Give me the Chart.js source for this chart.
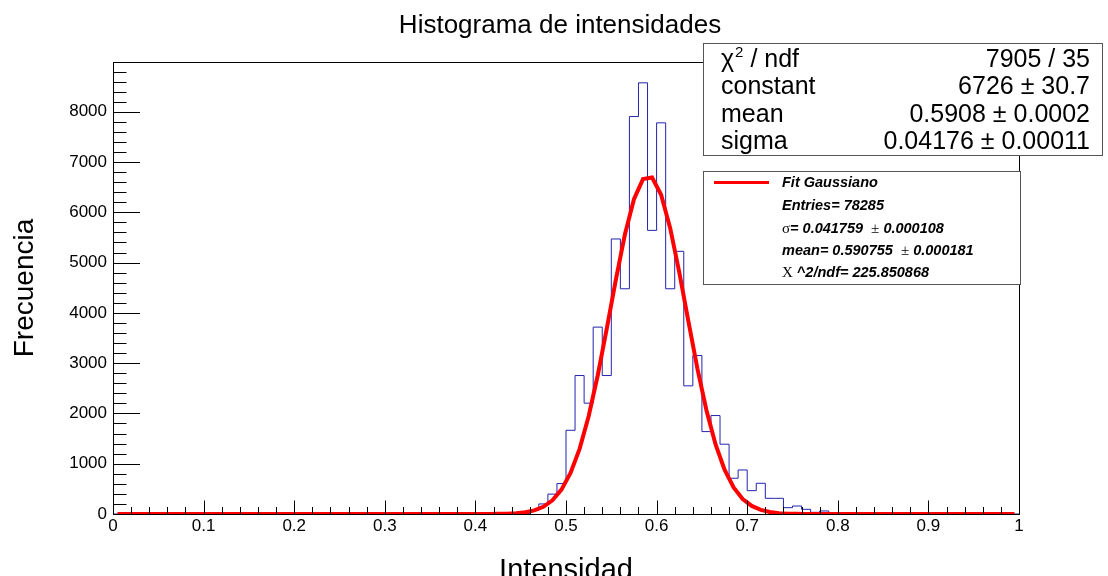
<!DOCTYPE html>
<html>
<head>
<meta charset="utf-8">
<title>Histograma de intensidades</title>
<script src="https://cdn.jsdelivr.net/npm/chart.js@4.4.1/dist/chart.umd.min.js"></script>
<style>
    html, body { margin: 0; padding: 0; background: #fff; }
    #wrap { width: 1108px; height: 576px; }
</style>
</head>
<body>
<div id="wrap"><canvas id="histChart" width="1108" height="576"></canvas></div>
<script>
// histogram range, 100 bins of 0.01
const xMin = 0;
const xMax = 1;
const yMax = 8990;

// bin contents (bin i covers [i/100, (i+1)/100])
const counts = [
    0, 0, 0, 0, 0, 0, 0, 0, 0, 0,
    0, 0, 0, 0, 0, 0, 0, 0, 0, 0,
    0, 0, 0, 0, 0, 0, 0, 0, 0, 0,
    0, 0, 0, 0, 0, 0, 0, 0, 0, 0,
    0, 0, 0, 0, 3, 10, 70, 200, 395, 605,
    1665, 2754, 2204, 3717, 2754, 5470, 4480, 7905, 8576, 5641,
    7780, 4480, 5224, 2549, 3152, 1639, 1958, 1388, 711, 876,
    464, 611, 312, 312, 126, 159, 93, 33, 60, 26,
    8, 4, 0, 0, 0, 0, 0, 0, 0, 0,
    0, 0, 0, 0, 0, 0, 0, 0, 0, 0
];

// gaussian fit evaluated at the bin centres
const fitCurve = [
    0, 0, 0, 0, 0, 0, 0, 0, 0, 0,
    0, 0, 0, 0, 0, 0, 0, 0, 0, 0,
    0, 0, 0, 0, 0, 0, 0, 0, 0, 0,
    0, 0, 0, 0, 0, 0, 0, 0, 0, 0,
    0.3, 1, 2.5, 6.4, 15, 34, 72, 144, 272, 484,
    815, 1295, 1944, 2755, 3686, 4657, 5558, 6261, 6661, 6692,
    6348, 5686, 4810, 3842, 2897, 2063, 1387, 881, 528, 299,
    160, 81, 39, 17, 7, 3, 1, 0, 0, 0,
    0, 0, 0, 0, 0, 0, 0, 0, 0, 0,
    0, 0, 0, 0, 0, 0, 0, 0, 0, 0
];

const xTicks = [0, 0.1, 0.2, 0.3, 0.4, 0.5, 0.6, 0.7, 0.8, 0.9, 1];
const yTicks = [0, 1000, 2000, 3000, 4000, 5000, 6000, 7000, 8000];

const titleText = "Histograma de intensidades";
const xTitle = "Intensidad";
const yTitle = "Frecuencia";

// fit parameter box
const parNames = ["χ^2 / ndf", "constant", "mean", "sigma"];
const parValues = ["7905 / 35", "6726 ± 30.7", "0.5908 ± 0.0002", "0.04176 ± 0.00011"];

// legend box
const legendTitle = "Fit Gaussiano";
const legendLines = [
    [["Entries= 78285", "bi"]],
    [["σ", "sym"], ["= 0.041759  ", "bi"], ["±", "sym"], [" 0.000108", "bi"]],
    [["mean= 0.590755  ", "bi"], ["±", "sym"], [" 0.000181", "bi"]],
    [["Χ", "sym"], [" ^2/ndf= 225.850868", "bi"]]
];

const SANS = '"Liberation Sans", Arial, Helvetica, sans-serif';
const SERIF = '"Liberation Serif", "DejaVu Serif", serif';

const nBins = counts.length;
const binW = (xMax - xMin) / nBins;

// step outline: one point per low edge + closing point
const histPoints = counts.map((c, i) => ({ x: xMin + i * binW, y: c }));
histPoints.push({ x: xMax, y: counts[nBins - 1] });

const fitPoints = fitCurve.map((v, i) => ({ x: xMin + (i + 0.5) * binW, y: v }));

function drawSegments(ctx, segs, x, y, fonts) {
    segs.forEach(([text, kind]) => {
        ctx.font = fonts[kind];
        ctx.fillText(text, x, y);
        x += ctx.measureText(text).width;
    });
}

// frame, inward ticks, titles and the two boxes
const rootStyle = {
    id: "rootStyle",
    afterDatasetsDraw(chart) {
        const ctx = chart.ctx;
        const area = chart.chartArea;
        const xs = chart.scales.x;
        const ys = chart.scales.y;
        ctx.save();
        ctx.strokeStyle = "#000";
        ctx.lineWidth = 1;
        ctx.strokeRect(Math.round(area.left) + 0.5, Math.round(area.top) + 0.5,
            Math.round(area.right - area.left), Math.round(area.bottom - area.top));

        ctx.beginPath();
        // x ticks: 0.1 major, 0.02 minor
        for (let k = 0; k <= 50; k++) {
            const px = Math.round(xs.getPixelForValue(k * 0.02)) + 0.5;
            const len = k % 5 === 0 ? 13.5 : 7;
            ctx.moveTo(px, area.bottom);
            ctx.lineTo(px, area.bottom - len);
        }
        // y ticks: 1000 major, 200 minor
        for (let v = 0; v <= yMax; v += 200) {
            const py = Math.round(ys.getPixelForValue(v)) + 0.5;
            const len = v % 1000 === 0 ? 27 : 13.5;
            ctx.moveTo(area.left, py);
            ctx.lineTo(area.left + len, py);
        }
        ctx.stroke();
        ctx.restore();
    },
    afterDraw(chart) {
        const ctx = chart.ctx;
        const area = chart.chartArea;
        ctx.save();
        ctx.fillStyle = "#000";

        // title
        ctx.font = "26px " + SANS;
        ctx.textAlign = "center";
        ctx.textBaseline = "alphabetic";
        ctx.fillText(titleText, 560, 33);

        // axis titles
        ctx.font = "29px " + SANS;
        ctx.fillText(xTitle, (area.left + area.right) / 2, 579);
        ctx.save();
        ctx.translate(33, (area.top + area.bottom) / 2);
        ctx.rotate(-Math.PI / 2);
        ctx.font = "28px " + SANS;
        ctx.fillText(yTitle, 0, 0);
        ctx.restore();

        // fit parameter box
        ctx.fillStyle = "#fff";
        ctx.fillRect(703, 43, 400, 112);
        ctx.strokeStyle = "#555";
        ctx.lineWidth = 1;
        ctx.strokeRect(703.5, 43.5, 399, 112);
        ctx.fillStyle = "#000";
        const rowY = [67, 94, 121.5, 148.5];
        parNames.forEach((name, i) => {
            ctx.font = "25px " + SANS;
            ctx.textAlign = "left";
            const parts = name.split("^");
            if (parts.length > 1) {
                ctx.fillText(parts[0], 721, rowY[i]);
                let x = 721 + ctx.measureText(parts[0]).width + 1;
                ctx.font = "15px " + SANS;
                ctx.fillText(parts[1].charAt(0), x, rowY[i] - 10);
                x += ctx.measureText(parts[1].charAt(0)).width;
                ctx.font = "25px " + SANS;
                ctx.fillText(parts[1].slice(1), x, rowY[i]);
            } else {
                ctx.fillText(name, 721, rowY[i]);
            }
            ctx.textAlign = "right";
            ctx.fillText(parValues[i], 1090, rowY[i]);
        });

        // legend box
        ctx.fillStyle = "#fff";
        ctx.fillRect(703, 171, 318, 114);
        ctx.strokeStyle = "#555";
        ctx.strokeRect(703.5, 171.5, 317, 113);
        ctx.strokeStyle = "rgb(255,0,0)";
        ctx.lineWidth = 3;
        ctx.beginPath();
        ctx.moveTo(714, 182.5);
        ctx.lineTo(769, 182.5);
        ctx.stroke();

        const fonts = {
            bi: "italic bold 14.5px " + SANS,
            sym: "15px " + SERIF
        };
        ctx.fillStyle = "#000";
        ctx.textAlign = "left";
        const legY = [187, 209.5, 232.5, 255, 277];
        drawSegments(ctx, [[legendTitle, "bi"]], 782, legY[0], fonts);
        legendLines.forEach((segs, i) => drawSegments(ctx, segs, 782, legY[i + 1], fonts));
        ctx.restore();
    }
};

const chart = new Chart(document.getElementById("histChart"), {
    type: "line",
    data: {
        datasets: [
            {
                label: "Fit Gaussiano",
                data: fitPoints,
                borderColor: "rgb(255,0,0)",
                borderWidth: 4,
                pointRadius: 0,
                tension: 0,
                fill: false,
                order: 0
            },
            {
                label: "Intensidad",
                data: histPoints,
                stepped: "before",
                borderColor: "rgb(35,35,175)",
                borderWidth: 1,
                pointRadius: 0,
                fill: false,
                order: 1
            }
        ]
    },
    options: {
        responsive: false,
        animation: false,
        devicePixelRatio: 1,
        layout: { padding: { left: 0, top: 62, right: 89, bottom: 0 } },
        plugins: {
            legend: { display: false },
            title: { display: false },
            tooltip: { enabled: false }
        },
        scales: {
            x: {
                type: "linear",
                min: xMin,
                max: xMax,
                grid: { display: false, drawTicks: false },
                border: { display: false },
                afterBuildTicks: (scale) => { scale.ticks = xTicks.map(v => ({ value: v })); },
                afterFit: (scale) => { scale.height = 62; },
                ticks: {
                    autoSkip: false,
                    maxRotation: 0,
                    padding: 2,
                    color: "#000",
                    font: { family: SANS, size: 17 },
                    callback: (v) => String(v)
                }
            },
            y: {
                type: "linear",
                min: 0,
                max: yMax,
                grid: { display: false, drawTicks: false },
                border: { display: false },
                afterBuildTicks: (scale) => { scale.ticks = yTicks.map(v => ({ value: v })); },
                afterFit: (scale) => { scale.width = 113; },
                ticks: {
                    padding: 6,
                    color: "#000",
                    font: { family: SANS, size: 17 },
                    callback: (v) => String(v)
                }
            }
        }
    },
    plugins: [rootStyle]
});
</script>
</body>
</html>
